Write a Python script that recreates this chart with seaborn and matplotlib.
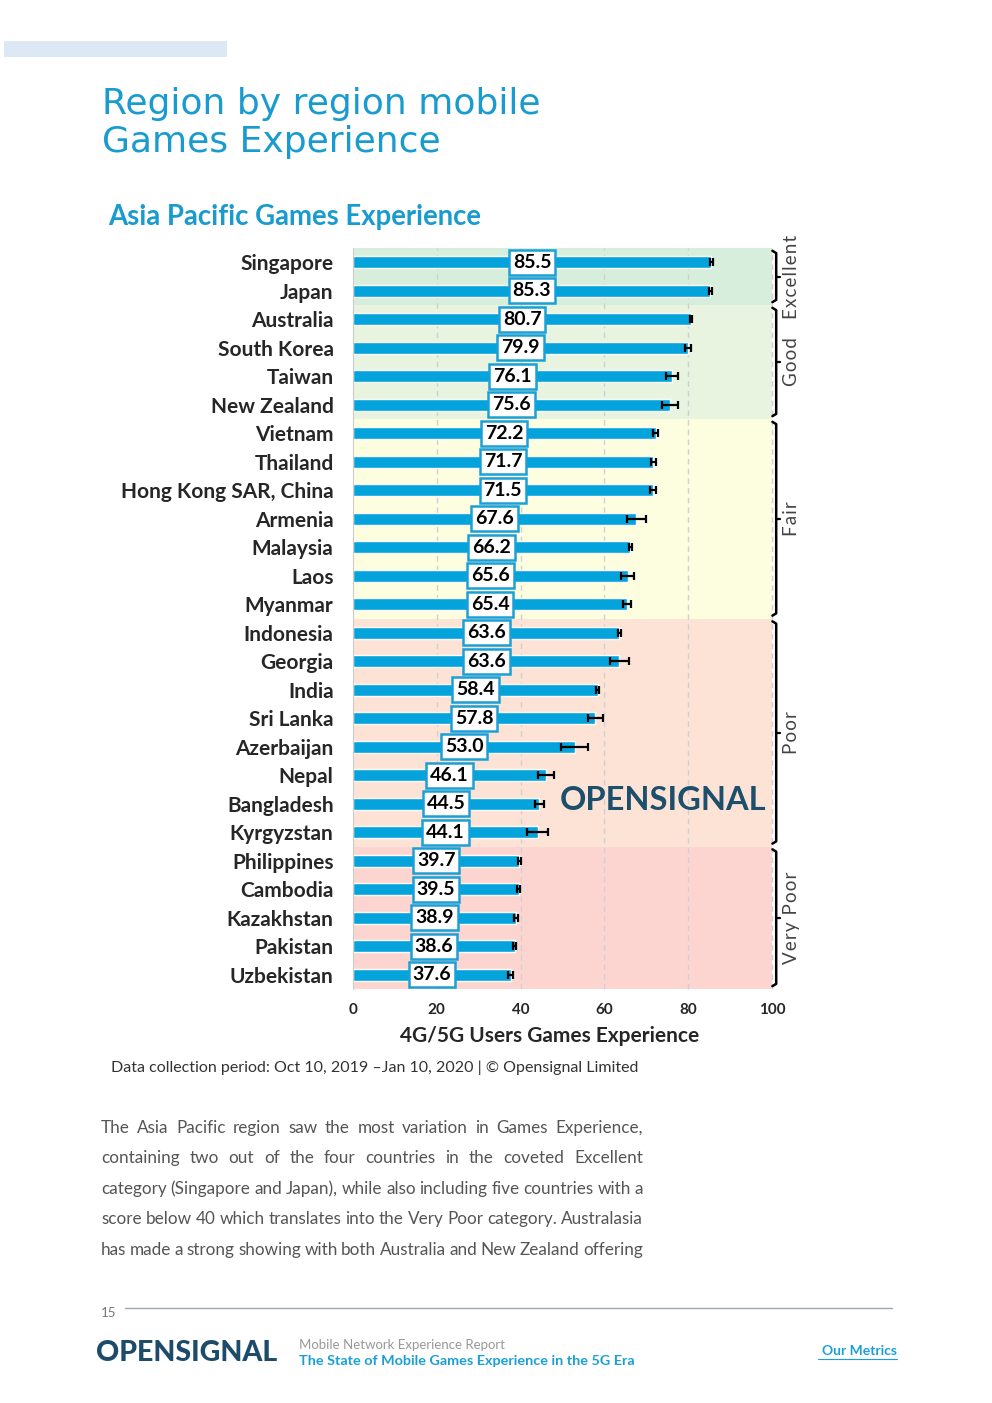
import pandas as pd
import numpy as np
import matplotlib
matplotlib.use("Agg")
import matplotlib.pyplot as plt
import seaborn as sns

# data
countries = ["Singapore", "Japan", "Australia", "South Korea", "Taiwan", "New Zealand",
             "Vietnam", "Thailand", "Hong Kong SAR, China", "Armenia", "Malaysia", "Laos",
             "Myanmar", "Indonesia", "Georgia", "India", "Sri Lanka", "Azerbaijan", "Nepal",
             "Bangladesh", "Kyrgyzstan", "Philippines", "Cambodia", "Kazakhstan", "Pakistan",
             "Uzbekistan"]
scores = [85.5, 85.3, 80.7, 79.9, 76.1, 75.6, 72.2, 71.7, 71.5, 67.6, 66.2, 65.6, 65.4,
          63.6, 63.6, 58.4, 57.8, 53.0, 46.1, 44.5, 44.1, 39.7, 39.5, 38.9, 38.6, 37.6]
err_lo = [0.3, 0.3, 0.3, 0.7, 1.5, 1.9, 0.5, 0.5, 0.7, 2.3, 0.4, 1.6, 1.0,
          0.3, 2.3, 0.3, 1.8, 3.3, 1.9, 1.0, 2.5, 0.3, 0.3, 0.5, 0.3, 0.6]
err_hi = [0.3, 0.3, 0.3, 0.8, 1.5, 1.9, 0.5, 0.5, 0.7, 2.3, 0.4, 1.4, 1.0,
          0.3, 2.3, 0.3, 1.8, 3.0, 1.9, 1.0, 2.5, 0.3, 0.3, 0.5, 0.3, 0.6]
categories = ["Excellent", "Good", "Fair", "Poor", "Very Poor"]
cat_counts = [2, 4, 7, 8, 5]
cat_colors = ["#d8eedc", "#e8f4df", "#fdfde0", "#fde3d6", "#fdd5d0"]
xticks = [0, 20, 40, 60, 80, 100]

sns.set_style("white")
plt.rcParams['font.family'] = ['Lato', 'DejaVu Sans']

df = pd.DataFrame({"country": countries, "score": scores})

fig = plt.figure(figsize=(9.92, 14.03), dpi=100)
ax = fig.add_axes([353/992, 1 - 989/1403, 419/992, 741/1403])

# category bands
start = 0
for c, n, col in zip(categories, cat_counts, cat_colors):
    ax.axhspan(start - 0.5, start + n - 0.5, color=col, zorder=0, lw=0)
    start += n

for x in [20, 40, 60, 80, 100]:
    ax.axvline(x, color="#d0d0d0", ls=(0, (4, 3)), lw=1, zorder=0.5, clip_on=False)

sns.barplot(data=df, y="country", x="score", orient="h", color="#04a3dc",
            width=0.42, saturation=1, errorbar=None, ax=ax, zorder=2)

ypos = np.arange(len(countries))
ax.errorbar(scores, ypos, xerr=[err_lo, err_hi], fmt="none", ecolor="black",
            elinewidth=1.6, capsize=3, capthick=1.6, zorder=3)

for i, v in enumerate(scores):
    ax.text(v / 2, i, f"{v:.1f}", ha="center", va="center", fontsize=14,
            fontweight="bold", color="black", zorder=4,
            bbox=dict(boxstyle="square,pad=0.2", facecolor="white",
                      edgecolor="#1aa0d6", lw=1.8))

ax.set_xlim(0, 100)
ax.set_ylim(len(countries) - 0.5, -0.5)
ax.set_xticks(xticks)
ax.set_xticklabels([str(t) for t in xticks], fontsize=11, fontweight="bold")
ax.tick_params(axis="y", length=0, pad=14, labelsize=15)
ax.tick_params(axis="x", length=0, pad=10)
for lab in ax.get_yticklabels():
    lab.set_fontweight("bold")
ax.set_ylabel("")
ax.set_xlabel("4G/5G Users Games Experience", fontsize=15, fontweight="bold")
ax.xaxis.set_label_coords(0.47, -0.05)
for s in ["top", "right", "bottom"]:
    ax.spines[s].set_visible(False)
ax.spines["left"].set_color("#cccccc")

# brackets with category names
start = 0
for c, n in zip(categories, cat_counts):
    top = start - 0.5 + 0.1
    bot = start + n - 0.5 - 0.1
    mid = (top + bot) / 2
    xb = 101.0
    ax.plot([xb - 0.9, xb, xb, xb - 0.9], [top, top + 0.08, bot - 0.08, bot],
            color="black", lw=1.8, clip_on=False, zorder=5)
    ax.plot([xb, xb + 0.9], [mid, mid], color="black", lw=1.6, clip_on=False, zorder=5)
    ax.text(104.6, mid, "\u200a".join(c), rotation=90, ha="center", va="center",
            fontsize=13.5, color="#444444", clip_on=False,
            family=["Lato", "DejaVu Sans"])
    start += n

ax.text(0.74, 0.255, "OPENSIGNAL", transform=ax.transAxes, ha="center", va="center",
        fontsize=23.5, fontweight="bold", color="#1c4f6c", zorder=4)

# page decorations
fig.patches.append(plt.Rectangle((4/992, 1 - 57/1403), 223/992, 16/1403,
                                 transform=fig.transFigure, color="#dde8f5", lw=0))
fig.text(102/992, 1 - 123/1403, "Region by region mobile\nGames Experience",
         fontsize=26, color="#1a9bd0", va="center", ha="left", linespacing=1.15,
         family=["DejaVu Sans"])
fig.text(108/992, 1 - 217/1403, "Asia Pacific Games Experience", fontsize=19.8,
         color="#1a9bd0", fontweight="bold", va="center")
fig.text(111/992, 1 - 1068/1403,
         "Data collection period: Oct 10, 2019 \u2013Jan 10, 2020 | \u00a9 Opensignal Limited",
         fontsize=11.5, color="#333333", va="center")

para = ["The Asia Pacific region saw the most variation in Games Experience,",
        "containing two out of the four countries in the coveted Excellent",
        "category (Singapore and Japan), while also including five countries with a",
        "score below 40 which translates into the Very Poor category. Australasia",
        "has made a strong showing with both Australia and New Zealand offering"]

# justified paragraph: measure the words, then spread them across the column
renderer = fig.canvas.get_renderer()
x0, x1 = 101, 643
for k, line in enumerate(para):
    words = line.split(" ")
    y = 1 - (1128 + k * 30.4) / 1403
    arts = [fig.text(0, y, w, fontsize=12.3, color="#555555", va="center") for w in words]
    widths = [a.get_window_extent(renderer).width for a in arts]
    gap = (x1 - x0 - sum(widths)) / (len(words) - 1)
    xpos = x0
    for a, w in zip(arts, widths):
        a.set_x(xpos / 992)
        xpos += w + gap

fig.add_artist(plt.Line2D([125/992, 892/992], [1 - 1308/1403] * 2,
                          transform=fig.transFigure, color="#9aa5b5", lw=1))
fig.text(101/992, 1 - 1313/1403, "15", fontsize=9.5, color="#777777", va="center")
fig.text(96/992, 1 - 1353/1403, "OPENSIGNAL", fontsize=20.5, fontweight="black",
         color="#1d4c6b", va="center")
fig.text(299/992, 1 - 1345/1403, "Mobile Network Experience Report", fontsize=9.5,
         color="#999999", va="center")
fig.text(299/992, 1 - 1361/1403, "The State of Mobile Games Experience in the 5G Era",
         fontsize=10.4, color="#1aa0d6", va="center", fontweight="bold")
fig.text(897/992, 1 - 1351/1403, "Our Metrics", fontsize=10, color="#1aa0d6",
         va="center", ha="right", fontweight="bold")
fig.add_artist(plt.Line2D([818/992, 897/992], [1 - 1359/1403] * 2,
                          transform=fig.transFigure, color="#1aa0d6", lw=0.8))

fig.savefig("out.png", dpi=100, facecolor="white")
